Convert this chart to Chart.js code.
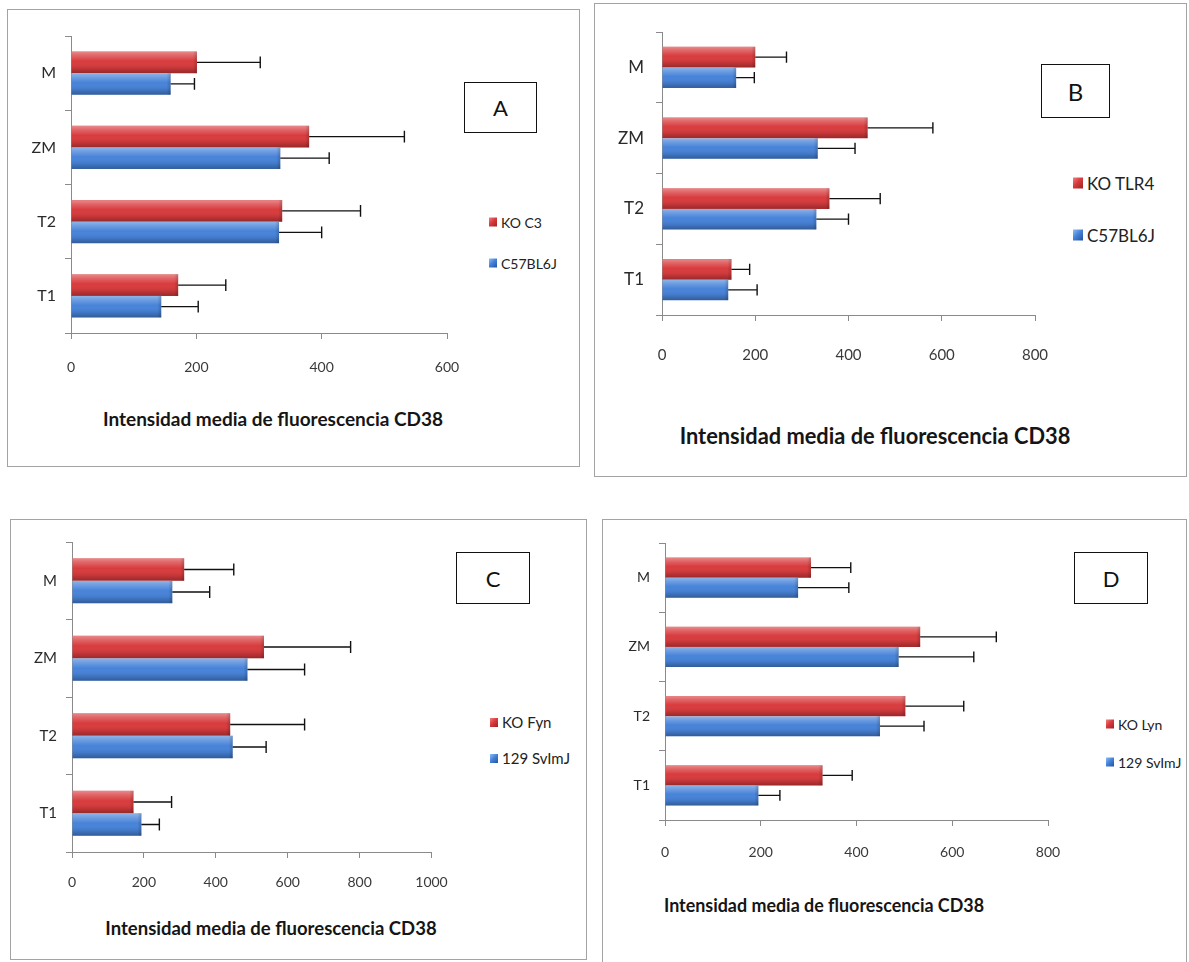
<!DOCTYPE html>
<html>
<head>
<meta charset="utf-8">
<title>Intensidad media de fluorescencia CD38</title>
<script src="https://cdn.jsdelivr.net/npm/chart.js@4.4.1/dist/chart.umd.min.js"></script>
<style>
  html, body { margin: 0; padding: 0; background: #fff; }
  body { position: relative; width: 1189px; height: 962px; overflow: hidden;
         font-family: Lato, "Open Sans", "DejaVu Sans", sans-serif; }
  .frame { position: absolute; border: 1.5px solid #a3a3a3; box-sizing: border-box; background: #fff; }
  .tag { position: absolute; border: 1.5px solid #111; background: #fff; box-sizing: border-box;
         display: flex; align-items: center; justify-content: center; color: #111; }
  .legend-item { position: absolute; display: flex; align-items: center; color: #222;
                 white-space: nowrap; transform: translateY(-50%); }
  .swatch { display: inline-block; margin-right: 4px; }
  .axis-title { position: absolute; font-weight: bold; white-space: nowrap; color: #151515;
                line-height: 1; }
  canvas { position: absolute; }
</style>
</head>
<body>
<script>
// ---------- data ----------
const categories = ['T1', 'T2', 'ZM', 'M'];
const axisTitle = 'Intensidad media de fluorescencia CD38';

// A: KO C3 vs C57BL6J
const xTicksA = [0, 200, 400, 600];
const namesA = ['KO C3', 'C57BL6J'];
const koC3 = [171, 337, 380, 201];
const koC3Err = [76, 125, 152, 101];
const c57A = [144, 332, 334, 159];
const c57AErr = [59, 68, 78, 38];

// B: KO TLR4 vs C57BL6J
const xTicksB = [0, 200, 400, 600, 800];
const namesB = ['KO TLR4', 'C57BL6J'];
const koTlr4 = [149, 359, 441, 200];
const koTlr4Err = [39, 109, 140, 67];
const c57B = [142, 331, 334, 159];
const c57BErr = [62, 69, 80, 39];

// C: KO Fyn vs 129 SvImJ
const xTicksC = [0, 200, 400, 600, 800, 1000];
const namesC = ['KO Fyn', '129 SvImJ'];
const koFyn = [171, 440, 534, 312];
const koFynErr = [106, 207, 241, 138];
const svC = [193, 447, 488, 279];
const svCErr = [50, 93, 159, 104];

// D: KO Lyn vs 129 SvImJ
const xTicksD = [0, 200, 400, 600, 800];
const namesD = ['KO Lyn', '129 SvImJ'];
const koLyn = [329, 502, 533, 305];
const koLynErr = [62, 122, 159, 83];
const svD = [195, 449, 488, 278];
const svDErr = [45, 92, 157, 106];

// ---------- styling ----------
const RED = '#d83b3d';
const BLUE = '#4783d9';
const AXIS = '#8a8a8a';
const FONT = 'Lato, "Open Sans", "DejaVu Sans", sans-serif';

const swatchCss = {
  [RED]: 'linear-gradient(135deg,#f08080 0%,#d83b3d 45%,#9c2326 100%)',
  [BLUE]: 'linear-gradient(135deg,#8cc0f8 0%,#4783d9 45%,#24529f 100%)'
};

// panel layout: frame box, plot area, letter tag, legend and title placement
const panels = [
  {
    tag: 'A', ticks: xTicksA,
    series: [
      { name: namesA[0], values: koC3, err: koC3Err, color: RED },
      { name: namesA[1], values: c57A, err: c57AErr, color: BLUE }
    ],
    frame: { l: 7, t: 9, r: 580, b: 467 },
    plot: { l: 71, r: 447, t: 36, b: 333 },
    tagBox: { l: 464, t: 82, r: 537, b: 133, size: 22 },
    legend: { x: 489, ys: [222, 263], size: 14, sw: 8 },
    title: { cx: 273, cy: 418, size: 19, w: 340 },
    tickSize: 14, tickPad: 20, catSize: 16, catPad: 9
  },
  {
    tag: 'B', ticks: xTicksB,
    series: [
      { name: namesB[0], values: koTlr4, err: koTlr4Err, color: RED },
      { name: namesB[1], values: c57B, err: c57BErr, color: BLUE }
    ],
    frame: { l: 594, t: 3, r: 1187, b: 477 },
    plot: { l: 662, r: 1035, t: 32, b: 315 },
    tagBox: { l: 1041, t: 64, r: 1110, b: 118, size: 24 },
    legend: { x: 1073, ys: [183, 235], size: 17, sw: 10 },
    title: { cx: 875, cy: 436, size: 22, w: 391 },
    tickSize: 15, tickPad: 25, catSize: 17, catPad: 12
  },
  {
    tag: 'C', ticks: xTicksC,
    series: [
      { name: namesC[0], values: koFyn, err: koFynErr, color: RED },
      { name: namesC[1], values: svC, err: svCErr, color: BLUE }
    ],
    frame: { l: 10, t: 519, r: 587, b: 960 },
    plot: { l: 71.5, r: 431, t: 542, b: 852 },
    tagBox: { l: 456, t: 552, r: 530, b: 604, size: 22 },
    legend: { x: 490, ys: [722, 758], size: 15, sw: 8 },
    title: { cx: 271, cy: 927, size: 19, w: 331 },
    tickSize: 14, tickPad: 16, catSize: 15, catPad: 9
  },
  {
    tag: 'D', ticks: xTicksD,
    series: [
      { name: namesD[0], values: koLyn, err: koLynErr, color: RED },
      { name: namesD[1], values: svD, err: svDErr, color: BLUE }
    ],
    frame: { l: 602, t: 519, r: 1187, b: 975 },
    plot: { l: 665, r: 1048, t: 543, b: 820 },
    tagBox: { l: 1074, t: 552, r: 1148, b: 604, size: 22 },
    legend: { x: 1106, ys: [724, 762], size: 14, sw: 8 },
    title: { cx: 824, cy: 904, size: 19, w: 320 },
    tickSize: 14, tickPad: 18, catSize: 14, catPad: 9
  }
];

// shaded cylinder look laid over each bar
const glossBars = {
  id: 'glossBars',
  afterDatasetsDraw(chart) {
    const ctx = chart.ctx;
    chart.data.datasets.forEach((ds, i) => {
      chart.getDatasetMeta(i).data.forEach(bar => {
        const { x, y, base, height } = bar.getProps(['x', 'y', 'base', 'height'], true);
        const top = y - height / 2;
        const g = ctx.createLinearGradient(0, top, 0, top + height);
        g.addColorStop(0, 'rgba(255,255,255,0.40)');
        g.addColorStop(0.18, 'rgba(255,255,255,0.22)');
        g.addColorStop(0.45, 'rgba(255,255,255,0.0)');
        g.addColorStop(0.75, 'rgba(0,0,0,0.08)');
        g.addColorStop(1, 'rgba(0,0,0,0.30)');
        ctx.save();
        ctx.fillStyle = g;
        ctx.fillRect(Math.min(x, base), top, Math.abs(x - base), height);
        // slightly darker rounded end
        const e = ctx.createLinearGradient(x - 4, 0, x, 0);
        e.addColorStop(0, 'rgba(0,0,0,0)');
        e.addColorStop(1, 'rgba(0,0,0,0.18)');
        ctx.fillStyle = e;
        ctx.fillRect(x - 4, top, 4, height);
        ctx.restore();
      });
    });
  }
};

// one-sided (positive) error bars
const errorBars = {
  id: 'errorBars',
  afterDatasetsDraw(chart) {
    const ctx = chart.ctx;
    const xs = chart.scales.x;
    chart.data.datasets.forEach((ds, i) => {
      chart.getDatasetMeta(i).data.forEach((bar, j) => {
        const { x, y, height } = bar.getProps(['x', 'y', 'height'], true);
        const xe = xs.getPixelForValue(ds.data[j] + ds.errorPlus[j]);
        const cap = height * 0.27;
        ctx.save();
        ctx.strokeStyle = '#111';
        ctx.lineWidth = 1.4;
        ctx.beginPath();
        ctx.moveTo(x, y);
        ctx.lineTo(xe, y);
        ctx.moveTo(xe, y - cap);
        ctx.lineTo(xe, y + cap);
        ctx.stroke();
        ctx.restore();
      });
    });
  }
};

function el(tag, cls, css, text) {
  const e = document.createElement(tag);
  if (cls) e.className = cls;
  Object.assign(e.style, css || {});
  if (text != null) e.textContent = text;
  document.body.appendChild(e);
  return e;
}

function drawPanel(p) {
  // frame
  el('div', 'frame', {
    left: p.frame.l + 'px', top: p.frame.t + 'px',
    width: (p.frame.r - p.frame.l) + 'px', height: (p.frame.b - p.frame.t) + 'px'
  });

  // chart canvas, sized so the plot area lands on p.plot
  const padL = 70, padR = 24, padT = 10, padB = 60;
  const w = Math.round(p.plot.r - p.plot.l + padL + padR);
  const h = Math.round(p.plot.b - p.plot.t + padT + padB);
  const cx0 = p.plot.l - padL, cy0 = p.plot.t - padT;
  const cv = el('canvas', null, {
    left: cx0 + 'px', top: cy0 + 'px', width: w + 'px', height: h + 'px'
  });
  cv.width = w; cv.height = h;

  const chart = new Chart(cv, {
    type: 'bar',
    data: {
      labels: categories,
      datasets: p.series.map(s => ({
        label: s.name,
        data: s.values,
        errorPlus: s.err,
        backgroundColor: s.color,
        borderWidth: 0,
        categoryPercentage: 0.58,
        barPercentage: 1
      }))
    },
    options: {
      indexAxis: 'y',
      responsive: false,
      animation: false,
      devicePixelRatio: 1,
      layout: { padding: { left: 0, right: padR, top: padT, bottom: 0 } },
      plugins: { legend: { display: false }, tooltip: { enabled: false } },
      scales: {
        x: {
          min: p.ticks[0],
          max: p.ticks[p.ticks.length - 1],
          afterBuildTicks: s => { s.ticks = p.ticks.map(v => ({ value: v })); },
          afterFit: s => { s.height = padB; s.paddingLeft = 0; s.paddingRight = 0; },
          grid: { drawOnChartArea: false, tickLength: 6, color: AXIS },
          border: { display: true, color: AXIS, width: 1 },
          ticks: { padding: p.tickPad, color: '#3a3a3a', maxRotation: 0, autoSkip: false,
                   callback: v => String(v),
                   font: { family: FONT, size: p.tickSize } }
        },
        y: {
          reverse: true,
          afterFit: s => { s.width = padL; s.paddingTop = 0; s.paddingBottom = 0; },
          grid: { drawOnChartArea: false, tickLength: 6, color: AXIS, offset: true },
          border: { display: true, color: AXIS, width: 1 },
          ticks: { padding: p.catPad, color: '#2a2a2a',
                   font: { family: FONT, size: p.catSize } }
        }
      }
    },
    plugins: [glossBars, errorBars]
  });

  // nudge layout padding so the plot area sits exactly on p.plot
  for (let pass = 0; pass < 2; pass++) {
    const a = chart.chartArea;
    const pad = chart.options.layout.padding;
    const dTop = (p.plot.t - cy0) - a.top;
    const dRight = (cx0 + a.right) - p.plot.r;
    const dBottom = (cy0 + a.bottom) - p.plot.b;
    if (Math.abs(dTop) < 0.5 && Math.abs(dRight) < 0.5 && Math.abs(dBottom) < 0.5) break;
    pad.top += dTop;
    pad.right += dRight;
    pad.bottom = (pad.bottom || 0) + dBottom;
    chart.update();
  }

  // letter tag
  el('div', 'tag', {
    left: p.tagBox.l + 'px', top: p.tagBox.t + 'px',
    width: (p.tagBox.r - p.tagBox.l) + 'px', height: (p.tagBox.b - p.tagBox.t) + 'px',
    fontSize: p.tagBox.size + 'px'
  }, p.tag);

  // legend
  p.series.forEach((s, i) => {
    const item = el('div', 'legend-item', {
      left: p.legend.x + 'px', top: p.legend.ys[i] + 'px', fontSize: p.legend.size + 'px'
    });
    const sw = document.createElement('span');
    sw.className = 'swatch';
    Object.assign(sw.style, {
      width: p.legend.sw + 'px', height: (p.legend.sw + 1) + 'px', background: swatchCss[s.color]
    });
    item.appendChild(sw);
    item.appendChild(document.createTextNode(s.name));
  });

  // axis title, squeezed to its measured width
  const t = el('div', 'axis-title', {
    left: p.title.cx + 'px', top: p.title.cy + 'px', fontSize: p.title.size + 'px'
  }, axisTitle);
  const k = p.title.w / t.offsetWidth;
  t.style.transform = `translate(-50%, -50%) scaleX(${k.toFixed(3)})`;
}

panels.forEach(drawPanel);
</script>
</body>
</html>
